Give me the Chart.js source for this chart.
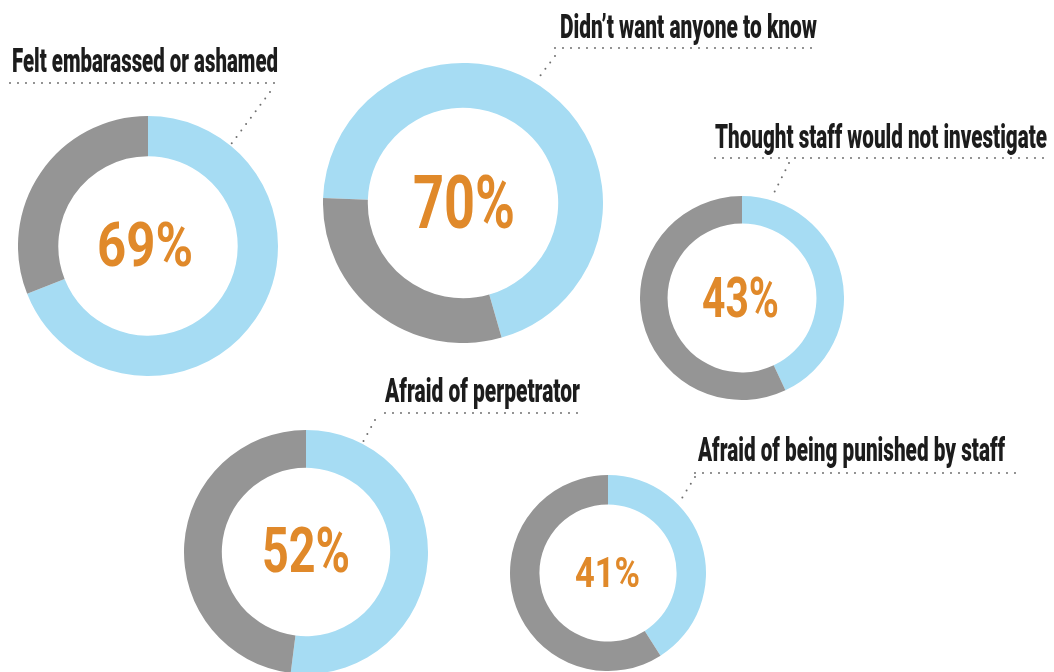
<!DOCTYPE html>
<html>
<head>
<meta charset="utf-8">
<script src="https://cdn.jsdelivr.net/npm/chart.js@4"></script>
<style>
  html, body { margin: 0; padding: 0; background: #fff; width: 1054px; height: 672px; overflow: hidden; }
  #page { position: relative; width: 1054px; height: 672px; overflow: hidden; }
  #dots, canvas.donut { position: absolute; }
  #dots { left: 0; top: 0; }
  .txt { position: absolute; white-space: nowrap; line-height: 1; font-family: Roboto, 'Liberation Sans', sans-serif; font-weight: 700; transform-origin: 0 0; }
  .label { color: #1c1c1c; font-weight: 900; }
  .pct { color: #e0892a; }
</style>
</head>
<body>
<div id="page"><canvas id="dots" width="1054" height="672"></canvas></div>
<script>
const categories = [
    'Felt embarassed or ashamed',
    'Didn\u2019t want anyone to know',
    'Thought staff would not investigate',
    'Afraid of perpetrator',
    'Afraid of being punished by staff'
]
const percentages = [69, 70, 43, 52, 41]
const remainders = [31, 30, 57, 48, 59]
const startAngles = [0, 272, 0, 0, 0]

const blue = '#a6dcf3'
const grey = '#959595'

// ring placement on the page
const rings = [
    { cx: 148, cy: 246, r: 130, cut: '69%' },
    { cx: 463, cy: 203, r: 140, cut: '68%' },
    { cx: 742, cy: 298, r: 102, cut: '73%' },
    { cx: 306, cy: 552, r: 122, cut: '69%' },
    { cx: 608, cy: 573, r: 98, cut: '70%' }
]

// label text boxes: left, baseline, cap height, width + dotted rule and leader
const labelBoxes = [
    { x: 12, base: 72, cap: 23, w: 266, rule: [10, 83, 278], lead: [270, 92, 229, 147] },
    { x: 560, base: 38, cap: 24, w: 257, rule: [555, 48, 813], lead: [555, 56, 537, 80] },
    { x: 715, base: 148, cap: 24, w: 332, rule: [715, 158, 1050], lead: [789, 163, 773, 195] },
    { x: 385, base: 402, cap: 24, w: 195, rule: [385, 413, 580], lead: [375, 420, 363, 442] },
    { x: 698, base: 461, cap: 24, w: 307, rule: [695, 473, 1020], lead: [695, 477, 682, 498] }
]

// centre percentages: centre x, centre y, cap height, width
const pctBoxes = [
    { cx: 145, cy: 245, cap: 44, w: 96 },
    { cx: 464, cy: 202, cap: 53, w: 102 },
    { cx: 740, cy: 297, cap: 40, w: 77 },
    { cx: 306, cy: 550, cap: 45, w: 88 },
    { cx: 607, cy: 573, cap: 30, w: 65 }
]

const page = document.getElementById('page')

// dotted rules and leaders
const dctx = document.getElementById('dots').getContext('2d')
dctx.strokeStyle = '#707070'
dctx.lineWidth = 2
dctx.lineCap = 'round'
dctx.setLineDash([0, 8])
labelBoxes.forEach(b => {
    dctx.beginPath()
    dctx.moveTo(b.rule[0], b.rule[1])
    dctx.lineTo(b.rule[2], b.rule[1])
    dctx.stroke()
    dctx.beginPath()
    dctx.moveTo(b.lead[0], b.lead[1])
    dctx.lineTo(b.lead[2], b.lead[3])
    dctx.stroke()
})

rings.forEach((g, i) => {
    const c = document.createElement('canvas')
    c.className = 'donut'
    c.width = g.r * 2
    c.height = g.r * 2
    c.style.left = (g.cx - g.r) + 'px'
    c.style.top = (g.cy - g.r) + 'px'
    page.appendChild(c)

    new Chart(c.getContext('2d'), {
        type: 'doughnut',
        data: {
            labels: [categories[i], 'Other'],
            datasets: [{
                data: [percentages[i], remainders[i]],
                backgroundColor: [blue, grey],
                borderWidth: 0
            }]
        },
        options: {
            responsive: false,
            animation: false,
            events: [],
            cutout: g.cut,
            rotation: startAngles[i],
            layout: { padding: 0 },
            plugins: {
                legend: { display: false },
                tooltip: { enabled: false }
            }
        }
    })
})

// text, squeezed to the condensed look of the original
function placeText(text, cls, left, base, cap, w) {
    const fs = cap / 0.711
    const el = document.createElement('div')
    el.className = 'txt ' + cls
    el.textContent = text
    el.style.fontSize = fs + 'px'
    el.style.left = left + 'px'
    el.style.top = (base - 0.842 * fs) + 'px'
    page.appendChild(el)
    const sx = w / el.getBoundingClientRect().width
    el.style.transform = 'scaleX(' + sx + ')'
}

labelBoxes.forEach((b, i) => placeText(categories[i], 'label', b.x, b.base, b.cap, b.w))
pctBoxes.forEach((p, i) => placeText(percentages[i] + '%', 'pct', p.cx - p.w / 2, p.cy + p.cap / 2, p.cap, p.w))
</script>
</body>
</html>
